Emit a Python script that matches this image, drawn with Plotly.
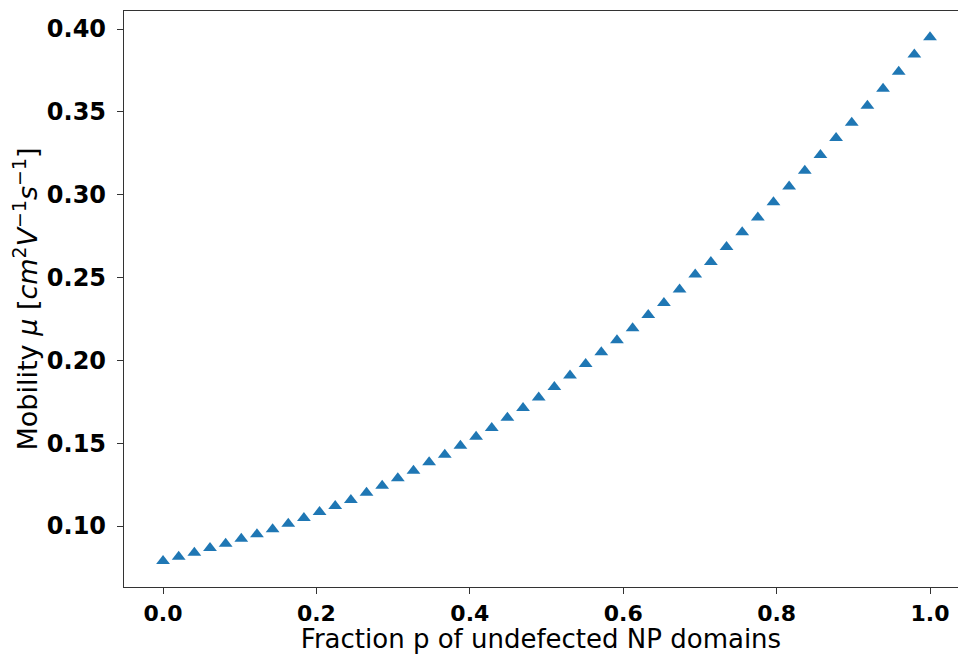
import plotly.graph_objects as go

fraction_p = [i / 49 for i in range(50)]
mobility = [
    0.0789, 0.0815, 0.0839, 0.0867, 0.0893, 0.0923, 0.0950, 0.0980, 0.1014, 0.1048,
    0.1085, 0.1121, 0.1157, 0.1201, 0.1243, 0.1288, 0.1334, 0.1385, 0.1431, 0.1485,
    0.1539, 0.1592, 0.1654, 0.1713, 0.1776, 0.1839, 0.1908, 0.1978, 0.2049, 0.2121,
    0.2194, 0.2274, 0.2347, 0.2428, 0.2518, 0.2594, 0.2685, 0.2774, 0.2863, 0.2955,
    0.3050, 0.3144, 0.3239, 0.3342, 0.3434, 0.3537, 0.3640, 0.3742, 0.3847, 0.3950,
]
x_ticks = [0.0, 0.2, 0.4, 0.6, 0.8, 1.0]
x_tick_labels = ["0.0", "0.2", "0.4", "0.6", "0.8", "1.0"]
y_ticks = [0.10, 0.15, 0.20, 0.25, 0.30, 0.35, 0.40]
y_tick_labels = ["0.10", "0.15", "0.20", "0.25", "0.30", "0.35", "0.40"]

fig = go.Figure(
    go.Scatter(
        x=fraction_p,
        y=mobility,
        mode="markers",
        marker=dict(symbol="triangle-up", size=12, color="#1f77b4", line=dict(width=0)),
        showlegend=False,
    )
)

fig.update_layout(
    width=959,
    height=654,
    margin=dict(l=124, r=1, t=11, b=67),
    paper_bgcolor="white",
    plot_bgcolor="white",
    font=dict(family="DejaVu Sans", color="black"),
    xaxis=dict(
        automargin=False,
        range=[-0.0509, 1.0365],
        tickvals=x_ticks,
        ticktext=x_tick_labels,
        ticks="outside",
        ticklen=6,
        tickwidth=1.2,
        tickcolor="#333",
        showline=True,
        linecolor="#333",
        linewidth=1.3,
        mirror=True,
        showgrid=False,
        zeroline=False,
        tickfont=dict(family="DejaVu Sans", size=22, weight="bold"),
        title=dict(text="Fraction p of undefected NP domains",
                   font=dict(family="DejaVu Sans", size=26), standoff=1),
    ),
    yaxis=dict(
        automargin=False,
        range=[0.0632, 0.4109],
        tickvals=y_ticks,
        ticktext=y_tick_labels,
        ticks="outside",
        ticklen=6,
        tickwidth=1.2,
        tickcolor="#333",
        showline=True,
        linecolor="#333",
        linewidth=1.3,
        mirror=False,
        showgrid=False,
        zeroline=False,
        ticklabelstandoff=6,
        tickfont=dict(family="DejaVu Sans", size=24, weight="bold"),
        title=dict(text="Mobility <i>μ</i> [<i>cm</i><sup>2</sup><i>V</i><sup>−1</sup><i>s</i><sup>−1</sup>]",
                   font=dict(family="DejaVu Sans", size=27), standoff=1),
    ),
)

fig.write_html(
    "out.html",
    config={"displayModeBar": False},
    post_script="document.body.style.margin='0';document.body.style.overflow='hidden';",
)
